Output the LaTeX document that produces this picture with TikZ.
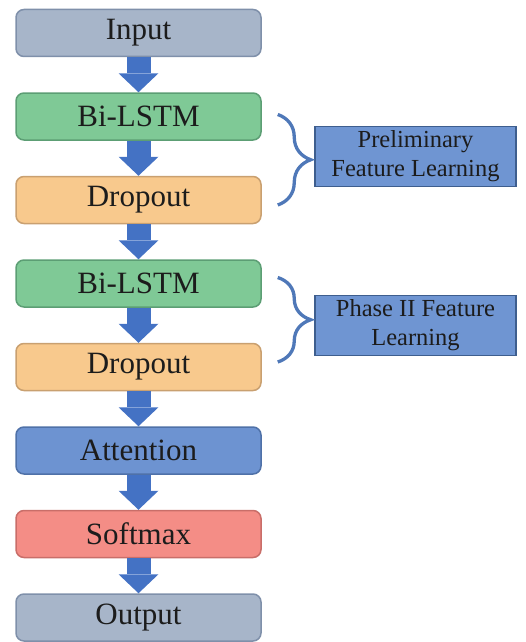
\documentclass[tikz,border=0pt]{standalone}
\usepackage{fontspec}
\setmainfont{Liberation Serif}
\usetikzlibrary{positioning,calc,arrows.meta,decorations.pathreplacing}
\definecolor{ink}{HTML}{1C1C1C}
\definecolor{iofill}{HTML}{A7B5C9}
\definecolor{iodraw}{HTML}{7F90AA}
\definecolor{bifill}{HTML}{7FC996}
\definecolor{bidraw}{HTML}{5C9E74}
\definecolor{dofill}{HTML}{F8C98D}
\definecolor{dodraw}{HTML}{C9A070}
\definecolor{atfill}{HTML}{6D93D1}
\definecolor{atdraw}{HTML}{4F71A8}
\definecolor{smfill}{HTML}{F48D86}
\definecolor{smdraw}{HTML}{C96E69}
\definecolor{flblue}{HTML}{4472C4}
\definecolor{brblue}{HTML}{4F78B8}
\definecolor{anfill}{HTML}{6F95D2}
\definecolor{andraw}{HTML}{3E5E8E}
\tikzset{
  lyr/.style   ={rectangle, rounded corners=8pt, line width=1.5pt, text=ink,
                 minimum width=245pt, minimum height=47pt, inner sep=0pt,
                 font=\fontsize{31}{36}\selectfont},
  lyrio/.style ={lyr, fill=iofill, draw=iodraw},
  lyrbi/.style ={lyr, fill=bifill, draw=bidraw},
  lyrdo/.style ={lyr, fill=dofill, draw=dodraw},
  lyrat/.style ={lyr, fill=atfill, draw=atdraw},
  lyrsm/.style ={lyr, fill=smfill, draw=smdraw},
  flw/.style   ={line width=24pt, draw=flblue, fill=flblue,
                 -{Triangle[width=40pt,length=19pt,line width=0pt]}},
  brc/.style   ={decorate, decoration={brace,amplitude=33pt}, line width=3.3pt, draw=brblue},
  ann/.style   ={rectangle, fill=anfill, draw=andraw, line width=1.2pt, text=ink,
                 minimum width=201pt, minimum height=60pt, align=center, inner sep=2pt,
                 font=\fontsize{24.5}{29}\selectfont}
}
\begin{document}
\begin{tikzpicture}[node distance=35pt]
  \useasboundingbox (0,0) rectangle (526pt,-642pt);
  % layer stack
  \node[lyrio] (inp) at (138.5pt,-33pt) {Input};
  \node[lyrbi,below=of inp]   (bil1)  {Bi-LSTM};
  \node[lyrdo,below=of bil1]  (drop1) {Dropout};
  \node[lyrbi,below=of drop1] (bil2)  {Bi-LSTM};
  \node[lyrdo,below=of bil2]  (drop2) {Dropout};
  \node[lyrat,below=of drop2] (att)   {Attention};
  \node[lyrsm,below=of att]   (smax)  {Softmax};
  \node[lyrio,below=of smax]  (outp)  {Output};
  \draw[flw] (inp)--(bil1);
  \draw[flw] (bil1)--(drop1);
  \draw[flw] (drop1)--(bil2);
  \draw[flw] (bil2)--(drop2);
  \draw[flw] (drop2)--(att);
  \draw[flw] (att)--(smax);
  \draw[flw] (smax)--(outp);
  % learning phases
  \node[ann] (pre) at ($(bil1.south)!.5!(drop1.north)+(277pt,2pt)$) {Preliminary\\Feature Learning};
  \node[ann] (ph2) at ($(bil2.south)!.5!(drop2.north)+(277pt,0)$) {Phase II Feature\\Learning};
  \draw[brc] ([xshift=16pt,yshift=2pt]bil1.east) -- ([xshift=16pt,yshift=-5pt]drop1.east);
  \draw[brc] ([xshift=16pt,yshift=6pt]bil2.east) -- ([xshift=16pt,yshift=5pt]drop2.east);
\end{tikzpicture}
\end{document}
